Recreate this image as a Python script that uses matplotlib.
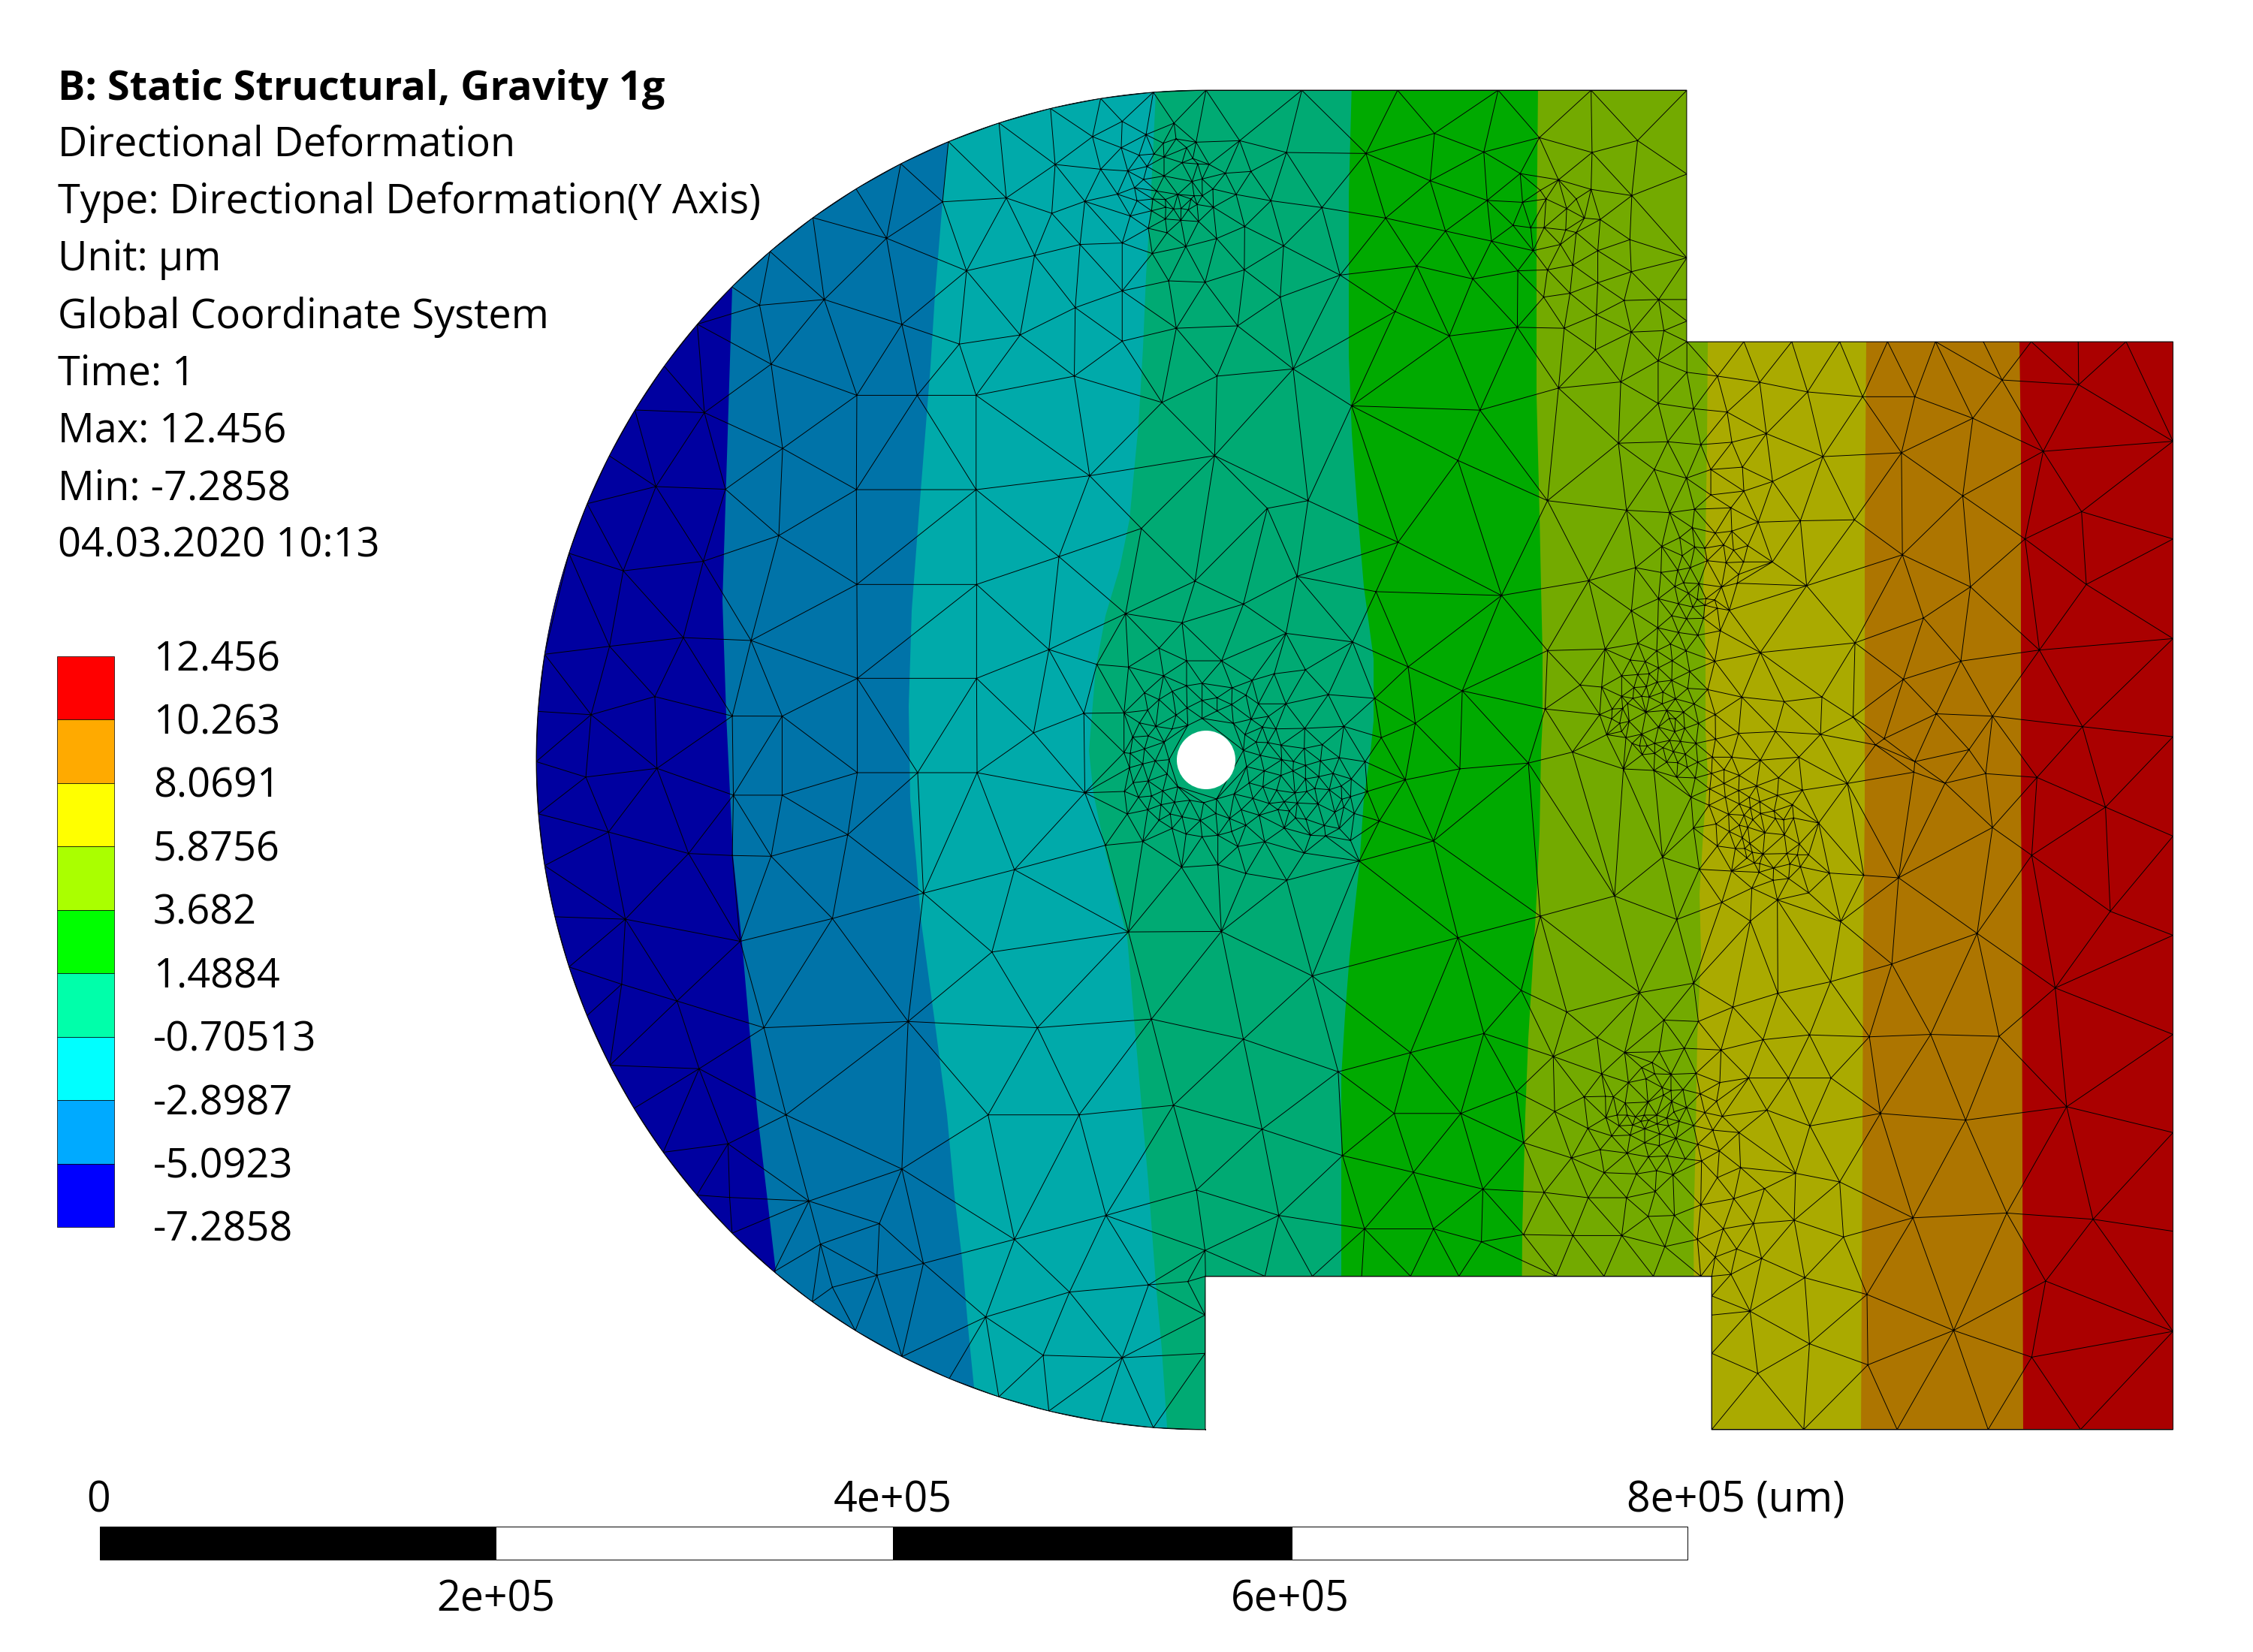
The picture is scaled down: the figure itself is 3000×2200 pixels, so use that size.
import numpy as np
import matplotlib
matplotlib.use("Agg")
import matplotlib.pyplot as plt
from matplotlib.path import Path
from matplotlib.patches import PathPatch, Circle, Rectangle
from matplotlib.tri import Triangulation

FONT = "Open Sans"
plt.rcParams["font.family"] = [FONT, "DejaVu Sans"]

# ---------- texts ----------
title_line = "B: Static Structural, Gravity 1g"
info_lines = ["Directional Deformation", "Type: Directional Deformation(Y Axis)", "Unit: µm",
              "Global Coordinate System", "Time: 1", "Max: 12.456", "Min: -7.2858", "04.03.2020 10:13"]
legend_labels = ["12.456", "10.263", "8.0691", "5.8756", "3.682", "1.4884", "-0.70513", "-2.8987", "-5.0923", "-7.2858"]
legend_colors = ["#FF0000", "#FFAA00", "#FFFF00", "#AAFF00", "#00FF00", "#00FFAA", "#00FFFF", "#00AAFF", "#0000FF"]
band_colors = ["#0000A0", "#0073A8", "#00AAAA", "#00AA73", "#00AA00", "#73AA00", "#AAAA00", "#AD7500", "#AA0000"]
scale_upper = ["0", "4e+05", "8e+05 (um)"]
scale_lower = ["2e+05", "6e+05"]

# ---------- contour band boundaries (x, y in picture pixels) ----------
b1 = [(975,110),(975,383),(962,800),(967,952),(976,1139),(988,1255),(998,1371),(1009,1487),(1033,1693),(1050,1915)]
b2 = [(1270,110),(1263,188),(1255,269),(1245,392),(1239,488),(1233,565),(1223,692),(1214,813),(1210,941),(1211,1000),(1212,1064),(1220,1147),(1226,1223),(1245,1363),(1261,1485),(1271,1593),(1281,1676),(1290,1778),(1297,1848),(1303,1915)]
b3 = [(1540,110),(1539,123),(1532,271),(1526,367),(1522,463),(1516,565),(1504,692),(1491,756),(1472,820),(1459,890),(1450,1000),(1456,1057),(1472,1134),(1501,1249),(1510,1357),(1520,1472),(1529,1574),(1539,1708),(1547,1797),(1555,1915)]
b4 = [(1800,110),(1796,259),(1796,367),(1796,475),(1800,577),(1807,673),(1816,781),(1829,877),(1829,960),(1825,1000),(1816,1064),(1810,1153),(1797,1274),(1791,1351),(1786,1434),(1786,1574),(1786,1915)]
b5 = [(2048,110),(2046,335),(2046,526),(2050,686),(2052,782),(2054,871),(2054,960),(2052,1000),(2050,1108),(2045,1217),(2035,1383),(2031,1485),(2027,1638),(2025,1915)]
b6 = [(2274,110),(2274,455),(2273,590),(2271,718),(2268,781),(2271,871),(2271,973),(2274,1032),(2268,1108),(2263,1191),(2265,1268),(2260,1383),(2258,1510),(2255,1638),(2257,1915)]
b7 = [(2485,110),(2485,455),(2483,718),(2483,909),(2483,1075),(2481,1255),(2480,1510),(2478,1915)]
b8 = [(2689,110),(2689,455),(2691,590),(2691,1075),(2692,1191),(2694,1915)]
band_edges = [b1, b2, b3, b4, b5, b6, b7, b8]

nodes_hole = [(68,25),(208,60),(300,100),(362,90),(440,0),(300,0),(482,108),(562,78),(650,52),(775,36),(866,135),(1052,150),(697,172),(587,172),(537,137),(422,148),(362,158),(302,188),(243,122),(190,155),(132,128),(50,208),(145,197),(258,217),(362,230),(422,200),(480,175),(487,250),(558,233),(627,222),(603,265),(657,272),(772,270),(928,262),(1078,307),(305,258),(242,272),(177,262),(112,248),(85,305),(147,300),(210,325),(132,352),(50,367),(75,370),(125,412),(175,400),(230,395),(72,427),(147,480),(222,452),(87,487),(52,522),(108,545),(160,540),(205,520),(265,503),(313,557),(252,565),(198,575),(145,595),(63,612),(190,637),(235,612),(282,623),(355,638),(368,567),(420,552),(490,532),(417,610),(472,630),(518,595),(537,657),(480,682),(425,697),(362,703),(298,692),(242,670),(125,722),(565,550),(590,617),(630,570),(550,488),(605,503),(540,423),(610,440),(595,378),(527,358),(533,295),(578,325),(625,327),(677,337),(680,395),(677,458),(727,402),(725,440),(770,350),(842,335),(775,418),(775,472),(828,463),(835,400),(910,387),(885,450),(1013,403),(958,472),(918,500),(870,515),(812,510),(780,522),(733,528),(660,517),(1022,522),(955,543),(920,553),(825,572),(742,568),(690,563),(665,595),(710,600),(892,605),(928,585),(970,610),(735,628),(777,633),(690,668),(850,658),(910,670),(795,697),(855,700),(955,718),(612,723),(505,742),(770,768),(990,800),(1070,640),(280,825),(425,815),(537,850),(700,877)]
nodes_a = [(190,42),(78,88),(147,122),(198,105),(278,118),(452,112),(110,165),(150,177),(240,140),(222,200),(265,183),(285,205),(330,207),(50,170),(82,215),(5,233),(150,253),(68,267),(395,242),(497,235),(262,275),(302,265),(32,300),(120,313),(345,305),(438,327),(577,352),(42,352),(105,345),(205,327),(303,332),(270,332),(155,347),(258,345),(100,392),(157,378),(188,385),(218,383),(247,388),(282,367),(347,378),(15,413),(155,425),(217,430),(288,435),(472,455),(87,462),(162,480),(360,503),(237,535),(103,563)]
nodes_cd = [(278,83),(350,48),(400,8),(492,30),(558,22),(410,85),(450,90),(525,77),(565,98),(622,80),(360,120),(460,140),(535,148),(605,145),(720,145),(173,168),(275,187),(342,178),(392,168),(585,195),(365,228),(427,232),(330,243),(385,270),(517,245),(580,230),(857,240),(265,292),(420,295),(455,292),(490,297),(345,312),(402,325),(450,318),(500,330),(548,338),(157,340),(318,360),(377,372),(445,370),(262,408),(345,427),(422,438),(512,420),(183,470),(313,473),(52,493),(258,500),(375,500),(672,507),(152,537),(212,543),(320,540),(490,542),(265,568),(390,583),(118,600),(182,595),(228,592),(260,625),(318,618),(38,645),(167,647),(217,643),(283,665),(382,650),(462,655),(118,682),(163,690),(198,682),(228,685),(333,692),(598,685),(767,703),(142,710),(280,712),(407,712),(80,733),(122,730),(30,755),(215,745),(298,738),(365,745),(492,755),(148,782),(78,772),(110,790),(308,770),(333,772),(425,790),(265,805),(370,810),(118,822),(58,835),(198,833),(330,823),(135,847),(585,830),(733,823),(310,858),(353,862),(415,870),(493,853),(160,870),(250,870),(190,880),(220,880),(283,887),(325,903),(372,913),(200,915),(250,910),(298,945),(422,945),(480,925),(558,925),(672,937),(826,925),(342,947),(380,965),(125,972),(247,978),(527,975),(477,990),(588,998),(338,1005),(412,1008),(745,1007),(527,1030),(657,1040)]
nodes_e = [(55,45),(117,30),(228,38),(385,47),(660,70),(110,92),(168,70),(225,98),(298,80),(480,97),(35,125),(172,125),(268,125),(380,118),(310,143),(107,157),(228,152),(272,168),(440,155),(367,180),(313,190),(185,193),(247,197),(282,215),(372,210),(405,215),(445,208),(545,228),(45,248),(135,232),(228,237),(262,245),(188,262),(330,267),(408,275),(240,287),(270,310),(468,312),(140,320),(212,330),(250,330),(322,352),(418,350),(280,345),(460,355),(505,355),(258,368),(288,388),(310,390),(68,413),(197,420),(307,425),(365,408),(430,392),(472,403),(588,428),(725,437),(363,457),(425,450),(278,488),(505,507),(158,545),(380,535),(272,620),(633,622)]
nodes_f = [(80,35),(190,95),(328,92),(428,78),(575,85),(300,135),(98,180),(258,155),(310,180),(375,182),(475,178),(205,215),(275,200),(340,235),(570,215),(28,272),(113,270),(145,272),(375,247),(423,243),(492,260),(192,297),(283,293),(345,265),(378,290),(557,290),(437,315),(510,335),(580,350),(115,355),(160,345),(200,345),(233,352),(268,345),(318,345),(387,332),(358,357),(168,388),(222,385),(255,370),(285,365),(320,380),(365,388),(408,370),(465,387),(43,398),(270,400),(330,420),(542,405),(138,428),(212,425),(395,438),(270,455),(328,467),(482,462),(92,483),(200,497),(568,488),(285,512),(360,508),(432,520),(108,575),(237,580),(317,567),(383,583),(497,528),(560,595)]
nodes_top_mid = [(40,400),(130,330),(220,270),(312,215),(412,170),(518,132),(625,100),(730,80),(840,68),(950,63),(1150,63),(1350,63),(1560,63),(18,512),(153,500),(283,372),(400,296),(533,288),(450,440),(315,552),(42,635),(221,700),(347,700),(470,700),(435,593),(562,574),(592,408),(628,320),(635,218),(713,160),(775,128),(773,183),(730,228),(787,232),(697,295),(765,280),(687,385),(775,382),(677,517),(775,482),(775,587),(675,660),(707,868),(858,715),(888,560),(872,461),(948,464),(840,403),(907,388),(972,372),(1030,347),(1030,438),(1112,388),(1087,293),(1192,308),(1045,235),(1020,168),(1118,193),(1284,195),(1427,153),(1530,192),(1418,252),(1537,293),(1325,330),(1450,357),(1546,378),(1230,449),(1390,430),(1507,457),(1105,495),(1016,555),(1345,525),(1458,576),(1132,645),(973,660),(1254,722),(1522,731),(968,826),(1163,920),(1078,936),(1476,836),(815,978),(643,1037),(1351,1007),(470,897),(220,897),(66,811),(58,993),(221,1095),(471,1095),(222,1291),(471,1291),(0,1212),(65,1370),(927,1088),(1140,1078),(1305,1110),(1567,1118),(1028,1136),(782,1156),(900,1175),(1117,1197),(1256,1215),(622,1231),(1372,1267),(722,1262),(852,1228),(1485,1317),(1387,1385),(695,1364),(590,1405),(1480,1480),(1366,1503),(348,1488),(472,1488),(222,1488),(65,1535),(697,1530)]
nodes_top_right = [(186,63),(386,63),(386,238),(386,413),(386,500),(386,545),(386,588),(505,588),(605,588),(705,588),(805,588),(905,588),(1005,588),(1105,588),(1203,588),(1303,588),(1401,588),(1401,796),(1401,1000),(1401,1208),(1401,1413),(78,162),(188,193),(283,168),(38,237),(118,250),(186,270),(271,283),(80,272),(43,297),(92,290),(135,310),(155,290),(172,330),(205,333),(23,345),(60,350),(88,350),(133,355),(155,360),(65,398),(122,385),(148,428),(200,398),(267,375),(95,438),(33,440),(270,442),(200,465),(87,495),(142,487),(255,502),(327,500),(197,532),(130,560),(32,558),(270,568),(338,565),(195,605),(118,685),(248,672),(326,628),(386,652),(450,660),(538,673),(638,693),(753,703),(862,703),(1044,668),(1204,678),(326,717),(400,728),(470,735),(983,748),(552,780),(243,800),(346,797),(415,803),(480,798),(670,828),(834,820),(1130,817),(318,855),(385,873),(502,850),(565,880),(436,855),(436,908),(505,900),(962,910),(95,920),(260,940),(350,945),(1210,943),(402,938),(478,935),(535,965),(623,962),(736,960),(1092,1000),(836,1033),(333,1015),(280,1060),(181,1087),(637,1098),(978,1100),(1220,1095),(270,1150),(327,1125),(880,1165),(326,1187),(1122,1232),(737,1217),(95,1233),(215,1230),(540,1237),(958,1255),(444,1255),(283,1217),(838,1293),(163,1305),(502,1330),(590,1337),(668,1330),(907,1365),(1024,1370),(733,1372),(1212,1392),(90,1355),(665,1408),(798,1417),(575,1403),(493,1405),(780,1430),(975,1440),(147,1445),(862,1465),(860,1487),(925,1510),(1010,1490),(1117,1498),(721,1510),(618,1455),(540,1460),(55,1468),(254,1480),(628,1525),(1260,1560)]
nodes_low_right = [(1024,160),(828,265),(1106,218),(1401,178),(1270,335),(1401,385),(992,381),(708,356),(814,445),(1155,495),(1401,592),(686,482),(400,485),(287,505),(135,545),(80,345),(235,303),(365,352),(335,222),(40,500),(338,562),(576,506),(482,535),(545,603),(642,593),(767,597),(895,592),(1038,596),(107,638),(198,600),(258,630),(410,565),(457,625),(515,683),(598,683),(687,683),(30,712),(790,757),(968,771),(1179,743),(1401,797),(553,750),(643,783),(495,797),(455,692),(110,753),(45,818),(145,850),(705,900),(613,882),(498,870),(548,914),(450,888),(415,948),(484,935),(88,922),(180,933),(260,933),(320,920),(360,970),(305,972),(858,975),(1054,965),(1234,978),(1401,1003),(610,980),(525,987),(462,998),(713,1015),(408,1020),(250,1012),(148,1012),(45,1010),(340,1035),(542,1060),(490,1040),(445,1057),(632,1100),(762,1135),(478,1093),(1135,1107),(438,1097),(438,1138),(518,1170),(438,1178),(943,1210),(642,1238),(1401,1212),(1106,1266),(764,1282),(534,1300),(438,1258),(438,1417),(630,1417),(825,1417),(1015,1417),(1208,1417),(1401,1417),(113,1097),(213,1097),(316,1097),(415,1097)]
nodes_low_mid = [(42,220),(202,175),(360,297),(550,248),(740,197),(820,188),(900,240),(975,238),(1033,257),(1120,268),(1272,230),(1425,188),(170,350),(503,420),(788,378),(982,377),(1172,470),(1476,390),(27,578),(328,565),(598,578),(836,560),(1028,602),(1226,670),(1377,630),(1530,590),(73,760),(495,760),(685,760),(882,740),(1067,790),(1343,757),(1482,757),(315,873),(1235,845),(1383,880),(930,917),(1528,915),(121,940),(268,987),(550,1020),(741,970),(1102,970),(1281,998),(1425,998),(1525,1025),(145,1030),(948,1043),(360,1070),(263,1095),(665,1130),(830,1115),(912,1108),(170,1120),(490,1182),(610,1262),(775,1267),(948,1178),(948,1258),(949,1097),(1073,1097),(1172,1097),(1275,1097),(1377,1097),(1478,1097),(949,1417),(50,1085),(128,1150),(218,1210),(315,1265),(415,1308),(517,1350),(622,1378),(731,1400),(840,1413)]
nodes_left_up = [(1390,750),(1325,848),(1260,955),(1205,1070),(1157,1190),(1115,1315),(1082,1445),(1337,1077),(1245,1270),(1377,1277),(1335,1465),(1183,1490)]
nodes_left_low = [(1035,80),(1020,165),(1017,240),(1020,318),(1035,395),(1050,472),(1085,545),(1117,618),(1160,692),(1208,755),(1260,822),(1325,885),(1390,943),(1157,68),(1297,55),(1415,52),(1122,170),(1243,143),(1390,172),(1112,263),(1247,250),(1392,290),(1155,345),(1307,377),(1390,380),(1187,475),(1405,508),(1180,572),(1285,597),(1327,698),(1382,810),(1385,890)]

# origin x, origin y, scale x, scale y of each crop
fine_sets = [(nodes_hole, 1480, 880, 3, 3), (nodes_a, 1500, 150, 3, 3), (nodes_cd, 2120, 700, 3, 3),
             (nodes_e, 2240, 1020, 3, 3), (nodes_f, 2100, 1370, 3, 3)]
fine_boxes = [(1480, 880, 1840, 1180), (1500, 150, 1700, 350), (2120, 700, 2420, 1050),
              (2240, 1020, 2490, 1240), (2100, 1370, 2300, 1570)]
coarse_sets = [(nodes_top_mid, 1000, 80, 1.568, 1.568), (nodes_top_right, 2000, 80, 1.568, 1.568),
               (nodes_low_right, 2000, 1000, 1.568, 1.568), (nodes_low_mid, 1000, 1000, 1.568, 1.568),
               (nodes_left_up, 0, 0, 1.4255, 1.96), (nodes_left_low, 0, 800, 1.4255, 1.12)]

# ---------- geometry of the part ----------
CX, CY, R, HOLE_R = 1606.0, 1012.0, 892.0, 39.0
theta = np.linspace(np.pi / 2, 3 * np.pi / 2, 300)
arc_x = CX + R * np.cos(theta)
arc_y = CY - R * np.sin(theta)
corner_x = [1605, 1605, 2279, 2279, 2893.5, 2893.5, 2246, 2246]
corner_y = [1904, 1700, 1700, 1904, 1904, 455, 455, 120]
outline = np.column_stack([np.r_[arc_x, corner_x, arc_x[0]], np.r_[arc_y, corner_y, arc_y[0]]])
shape_path = Path(outline, closed=True)


def to_px(nodes, ox, oy, sx, sy):
    return np.asarray(nodes, float) / [sx, sy] + [ox, oy]


pts = []


def add_point(p, tol):
    for q in pts:
        if abs(q[0] - p[0]) < tol and abs(q[1] - p[1]) < tol:
            return
    pts.append(p)


for nodes, ox, oy, sx, sy in fine_sets:
    for p in to_px(nodes, ox, oy, sx, sy):
        add_point(p, 2.5)
for nodes, ox, oy, sx, sy in coarse_sets:
    for p in to_px(nodes, ox, oy, sx, sy):
        if any(b[0] <= p[0] <= b[2] and b[1] <= p[1] <= b[3] for b in fine_boxes):
            continue
        d = np.hypot(p[0] - CX, p[1] - CY)
        if p[0] < CX and abs(d - R) < 12:
            p = np.array([CX, CY]) + (p - [CX, CY]) * R / d
        add_point(p, 8)
pts = np.array(pts)

tri = Triangulation(pts[:, 0], pts[:, 1])
cen = pts[tri.triangles].mean(axis=1)
inside = shape_path.contains_points(cen)
in_hole = np.hypot(cen[:, 0] - CX, cen[:, 1] - CY) < HOLE_R
tri.set_mask(~inside | in_hole)

# ---------- figure ----------
fig = plt.figure(figsize=(30, 22), dpi=100)
ax = fig.add_axes([0, 0, 1, 1])
ax.set_xlim(0, 3000)
ax.set_ylim(2200, 0)
ax.axis("off")

clip = PathPatch(shape_path, transform=ax.transData, facecolor="none", edgecolor="none")
ax.add_patch(clip)

first = ax.fill([600, 3000, 3000, 600], [110, 110, 1915, 1915], color=band_colors[0], lw=0, zorder=1)[0]
first.set_clip_path(clip)
for edge, col in zip(band_edges, band_colors[1:]):
    e = np.array(edge, float)
    poly = ax.fill(np.r_[e[:, 0], 3000, 3000], np.r_[e[:, 1], e[-1, 1], e[0, 1]], color=col, lw=0, zorder=1)[0]
    poly.set_clip_path(clip)

for ln in ax.triplot(tri, color="black", lw=0.68, zorder=2):
    ln.set_clip_path(clip)

ax.add_patch(PathPatch(shape_path, facecolor="none", edgecolor="black", lw=0.6, zorder=3))
ax.add_patch(Circle((CX, CY), HOLE_R, facecolor="white", edgecolor="none", zorder=3))

# header text
TXT = 39
ax.text(77, 133, title_line, fontsize=TXT, fontweight="bold", va="baseline", ha="left")
for i, line in enumerate(info_lines):
    ax.text(77, 208 + 76.2 * i, line, fontsize=TXT, va="baseline", ha="left")

# legend
leg_top, leg_step = 874.0, 84.44
for i, col in enumerate(legend_colors):
    ax.add_patch(Rectangle((76, leg_top + i * leg_step), 76, leg_step, facecolor=col, edgecolor="black", lw=0.5))
for i, lab in enumerate(legend_labels):
    ax.text(204, leg_top + i * leg_step + 19, lab, fontsize=TXT, va="baseline", ha="left")

# scale bar
SCALE_TXT = 40
bar_x = [133, 660, 1189, 1720, 2247]
for i in range(4):
    ax.add_patch(Rectangle((bar_x[i], 2033), bar_x[i + 1] - bar_x[i], 44,
                           facecolor="black" if i % 2 == 0 else "white", edgecolor="black", lw=0.7))
ax.text(131, 2013, scale_upper[0], fontsize=SCALE_TXT, ha="center", va="baseline")
ax.text(1189, 2013, scale_upper[1], fontsize=SCALE_TXT, ha="center", va="baseline")
ax.text(2166, 2013, scale_upper[2], fontsize=SCALE_TXT, ha="left", va="baseline")
ax.text(660, 2146, scale_lower[0], fontsize=SCALE_TXT, ha="center", va="baseline")
ax.text(1718, 2146, scale_lower[1], fontsize=SCALE_TXT, ha="center", va="baseline")

fig.savefig("out.png", dpi=100, facecolor="white")
